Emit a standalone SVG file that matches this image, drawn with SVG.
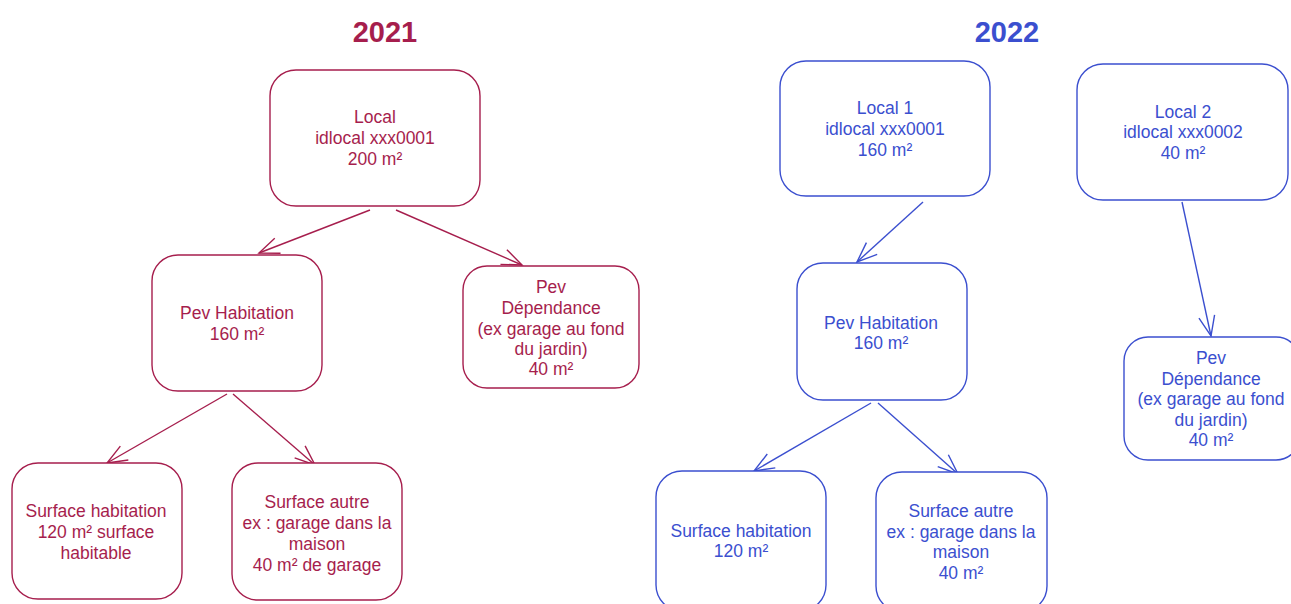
<svg xmlns="http://www.w3.org/2000/svg" width="1291" height="604" viewBox="0 0 1291 604">
<style>
.r rect{fill:#fff;stroke:#a61e4d;stroke-width:1.4}
.b rect{fill:#fff;stroke:#3b4fcf;stroke-width:1.4}
text{font-family:"Liberation Sans","DejaVu Sans",sans-serif;font-size:17.5px;text-anchor:middle}
.r text{fill:#a61e4d}
.b text{fill:#3b4fcf}
.title{font-size:29px;font-weight:bold}
.cr line{stroke:#a61e4d;stroke-width:1.4;marker-end:url(#ar)}
.cb line{stroke:#3b4fcf;stroke-width:1.4;marker-end:url(#ab)}
</style>
<defs>
<marker id="ar" viewBox="0 0 24 24" refX="22" refY="12" markerWidth="24" markerHeight="24" markerUnits="userSpaceOnUse" orient="auto">
<path d="M2 4 L22 12 L2 20" fill="none" stroke="#a61e4d" stroke-width="1.4"/>
</marker>
<marker id="ab" viewBox="0 0 24 24" refX="22" refY="12" markerWidth="24" markerHeight="24" markerUnits="userSpaceOnUse" orient="auto">
<path d="M2 4 L22 12 L2 20" fill="none" stroke="#3b4fcf" stroke-width="1.4"/>
</marker>
</defs>
<rect width="1291" height="604" fill="#fff"/>
<g id="title2021" class="r"><text class="title" x="385" y="42">2021</text></g>
<g id="title2022" class="b"><text class="title" x="1007" y="42">2022</text></g>

<g id="connectors">
<g class="cr">
<line x1="370" y1="210" x2="259" y2="253"/>
<line x1="396" y1="210" x2="522" y2="265"/>
<line x1="227" y1="394" x2="107" y2="463"/>
<line x1="233" y1="394" x2="315" y2="465"/>
</g>
<g class="cb">
<line x1="923" y1="202" x2="857" y2="262"/>
<line x1="1182" y1="202" x2="1211" y2="336"/>
<line x1="871" y1="403" x2="754" y2="471"/>
<line x1="878" y1="403" x2="958" y2="474"/>
</g>
</g>

<g id="local2021" class="r"><rect x="270" y="70" width="210" height="136" rx="26"/>
<text x="375" y="123">Local</text><text x="375" y="144">idlocal xxx0001</text><text x="375" y="165">200 m²</text></g>
<g id="pevhab2021" class="r"><rect x="152" y="255" width="170" height="136" rx="26"/>
<text x="237" y="319">Pev Habitation</text><text x="237" y="340">160 m²</text></g>
<g id="pevdep2021" class="r"><rect x="463" y="266" width="176" height="122" rx="24"/>
<text x="551" y="293">Pev</text><text x="551" y="314">Dépendance</text><text x="551" y="335">(ex garage au fond</text><text x="551" y="355">du jardin)</text><text x="551" y="375">40 m²</text></g>
<g id="surfhab2021" class="r"><rect x="12" y="463" width="170" height="136" rx="26"/>
<text x="96" y="517">Surface habitation</text><text x="96" y="538">120 m² surface</text><text x="96" y="559">habitable</text></g>
<g id="surfautre2021" class="r"><rect x="232" y="463" width="170" height="137" rx="26"/>
<text x="317" y="508">Surface autre</text><text x="317" y="529">ex : garage dans la</text><text x="317" y="550">maison</text><text x="317" y="571">40 m² de garage</text></g>

<g id="local1_2022" class="b"><rect x="780" y="61" width="210" height="135" rx="26"/>
<text x="885" y="114">Local 1</text><text x="885" y="135">idlocal xxx0001</text><text x="885" y="156">160 m²</text></g>
<g id="local2_2022" class="b"><rect x="1077" y="64" width="211" height="136" rx="26"/>
<text x="1183" y="118">Local 2</text><text x="1183" y="138">idlocal xxx0002</text><text x="1183" y="159">40 m²</text></g>
<g id="pevhab2022" class="b"><rect x="797" y="263" width="170" height="137" rx="26"/>
<text x="881" y="329">Pev Habitation</text><text x="881" y="349">160 m²</text></g>
<g id="pevdep2022" class="b"><rect x="1124" y="337" width="176" height="123" rx="24"/>
<text x="1211" y="364">Pev</text><text x="1211" y="385">Dépendance</text><text x="1211" y="405">(ex garage au fond</text><text x="1211" y="426">du jardin)</text><text x="1211" y="446">40 m²</text></g>
<g id="surfhab2022" class="b"><rect x="656" y="471" width="170" height="140" rx="26"/>
<text x="741" y="537">Surface habitation</text><text x="741" y="557">120 m²</text></g>
<g id="surfautre2022" class="b"><rect x="876" y="472" width="171" height="140" rx="26"/>
<text x="961" y="517">Surface autre</text><text x="961" y="538">ex : garage dans la</text><text x="961" y="558">maison</text><text x="961" y="579">40 m²</text></g>
</svg>
